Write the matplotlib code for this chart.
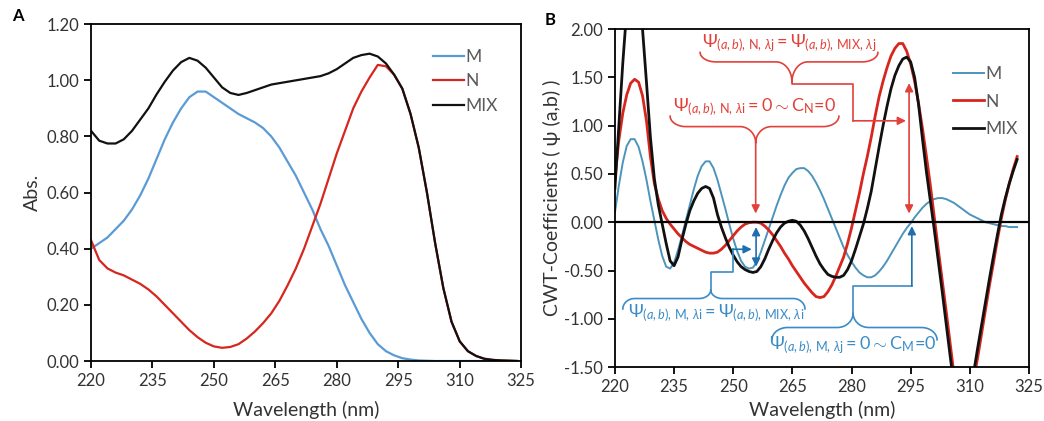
import numpy as np
import matplotlib
matplotlib.use('Agg')
import matplotlib.pyplot as plt

plt.rcParams['font.family'] = ['Lato', 'DejaVu Sans']
plt.rcParams['mathtext.fontset'] = 'custom'
plt.rcParams['mathtext.rm'] = 'Lato'
plt.rcParams['mathtext.it'] = 'Lato:italic'
plt.rcParams['mathtext.bf'] = 'Lato:bold'

# ---- panel A: absorption spectra ----
wl_a = list(range(220, 325, 2))
abs_m = [0.40, 0.42, 0.44, 0.47, 0.50, 0.54, 0.59, 0.65, 0.72, 0.79,
         0.85, 0.90, 0.94, 0.96, 0.96, 0.94, 0.92, 0.90, 0.88, 0.865,
         0.85, 0.83, 0.80, 0.76, 0.71, 0.66, 0.60, 0.54, 0.47, 0.41,
         0.34, 0.27, 0.21, 0.15, 0.10, 0.06, 0.035, 0.02, 0.01, 0.005,
         0.002, 0.001, 0.0, 0.0, 0.0, 0.0, 0.0, 0.0, 0.0, 0.0,
         0.0, 0.0, 0.0]
abs_n = [0.43, 0.36, 0.33, 0.315, 0.305, 0.29, 0.275, 0.255, 0.23, 0.20,
         0.17, 0.14, 0.11, 0.085, 0.065, 0.052, 0.047, 0.05, 0.06, 0.08,
         0.105, 0.135, 0.17, 0.215, 0.27, 0.33, 0.40, 0.48, 0.56, 0.65,
         0.74, 0.82, 0.90, 0.96, 1.01, 1.055, 1.05, 1.02, 0.97, 0.88,
         0.76, 0.60, 0.42, 0.26, 0.14, 0.07, 0.035, 0.018, 0.008, 0.004,
         0.002, 0.001, 0.0]
abs_mix = [0.82, 0.785, 0.775, 0.775, 0.79, 0.82, 0.86, 0.90, 0.95, 0.995,
           1.035, 1.065, 1.08, 1.07, 1.045, 1.01, 0.975, 0.955, 0.948, 0.955,
           0.965, 0.975, 0.985, 0.99, 0.995, 1.0, 1.005, 1.01, 1.015, 1.025,
           1.04, 1.06, 1.08, 1.09, 1.095, 1.085, 1.06, 1.02, 0.97, 0.88,
           0.76, 0.60, 0.42, 0.26, 0.14, 0.07, 0.035, 0.018, 0.008, 0.004,
           0.002, 0.001, 0.0]

# ---- panel B: CWT coefficients (1 nm steps) ----
wl_b = list(range(220, 323))
cwt_m = [0.10, 0.38, 0.62, 0.79, 0.86, 0.86, 0.78, 0.63, 0.44, 0.22,
         0.02, -0.18, -0.35, -0.46, -0.48, -0.42, -0.29, -0.14, 0.02, 0.18,
         0.34, 0.48, 0.58, 0.63, 0.63, 0.56, 0.44, 0.29, 0.14, -0.02,
         -0.17, -0.30, -0.40, -0.46, -0.48, -0.47, -0.41, -0.31, -0.19, -0.07,
         0.05, 0.17, 0.28, 0.38, 0.46, 0.51, 0.55, 0.56, 0.56, 0.53,
         0.48, 0.41, 0.33, 0.24, 0.14, 0.04, -0.06, -0.16, -0.26, -0.34,
         -0.41, -0.47, -0.52, -0.55, -0.57, -0.57, -0.55, -0.51, -0.46, -0.40,
         -0.33, -0.26, -0.19, -0.12, -0.06, -0.01, 0.05, 0.10, 0.15, 0.19,
         0.22, 0.24, 0.25, 0.25, 0.24, 0.22, 0.20, 0.17, 0.14, 0.11,
         0.08, 0.06, 0.04, 0.02, 0.0, -0.01, -0.02, -0.03, -0.04, -0.04,
         -0.05, -0.05, -0.05]
cwt_n = [0.45, 0.85, 1.13, 1.32, 1.44, 1.48, 1.45, 1.31, 1.05, 0.68,
         0.40, 0.24, 0.12, 0.04, -0.02, -0.07, -0.12, -0.16, -0.20, -0.23,
         -0.25, -0.27, -0.29, -0.31, -0.32, -0.32, -0.31, -0.28, -0.24, -0.19,
         -0.14, -0.09, -0.05, -0.02, -0.005, 0.0, 0.0, -0.01, -0.04, -0.08,
         -0.13, -0.19, -0.25, -0.32, -0.38, -0.45, -0.51, -0.57, -0.63, -0.68,
         -0.73, -0.77, -0.78, -0.77, -0.72, -0.65, -0.56, -0.46, -0.36, -0.22,
         -0.06, 0.12, 0.30, 0.50, 0.68, 0.88, 1.10, 1.30, 1.46, 1.60,
         1.72, 1.80, 1.85, 1.85, 1.77, 1.64, 1.46, 1.23, 0.97, 0.68,
         0.38, 0.05, -0.28, -0.60, -0.92, -1.25, -1.58, -1.85, -2.05, -2.10,
         -1.95, -1.62, -1.40, -1.15, -0.90, -0.65, -0.42, -0.18, 0.04, 0.23,
         0.40, 0.55, 0.68]
cwt_mix = [0.35, 1.00, 1.65, 2.20, 2.50, 2.55, 2.40, 2.00, 1.45, 0.88,
           0.45, 0.18, -0.02, -0.22, -0.40, -0.45, -0.36, -0.18, -0.02, 0.12,
           0.22, 0.30, 0.35, 0.37, 0.35, 0.25, 0.08, -0.05, -0.16, -0.26,
           -0.34, -0.41, -0.46, -0.49, -0.51, -0.52, -0.51, -0.46, -0.38, -0.28,
           -0.19, -0.11, -0.05, -0.01, 0.01, 0.02, 0.01, -0.03, -0.09, -0.17,
           -0.26, -0.35, -0.43, -0.49, -0.54, -0.56, -0.57, -0.57, -0.55, -0.49,
           -0.40, -0.28, -0.15, -0.02, 0.14, 0.32, 0.55, 0.78, 1.00, 1.20,
           1.38, 1.52, 1.62, 1.69, 1.71, 1.66, 1.50, 1.22, 0.86, 0.52,
           0.22, -0.08, -0.40, -0.72, -1.05, -1.38, -1.70, -1.98, -2.15, -2.15,
           -1.90, -1.55, -1.30, -1.06, -0.82, -0.58, -0.35, -0.13, 0.08, 0.25,
           0.40, 0.53, 0.65]

BLUE_A = '#5b9bd5'
BLUE_B = '#4d94bd'
RED = '#d7261e'
BLACK = '#111111'
RED_ANN = '#e2413a'
BLUE_ANN = '#3a8cc7'
BLUE_ARR = '#1f6fb0'
TICK_COL = '#333333'


def style_axes(ax):
    for s in ax.spines.values():
        s.set_linewidth(1.3)
        s.set_color('black')
    ax.tick_params(axis='both', direction='out', length=5, width=1.3,
                   labelsize=12, labelcolor=TICK_COL, top=False, right=False)
    ax.set_xticks(range(220, 326, 15))
    ax.set_xlim(220, 325)


# horizontal curly brace: ends at y_end, body at y_body, tip at (xm, y_tip)
def brace(ax, x0, x1, xm, y_end, y_body, y_tip, color, r=4.0):
    t = np.linspace(0, np.pi / 2, 25)
    s, c = np.sin(t), np.cos(t)
    xs = np.concatenate([
        x0 + r - r * c,                      # left curl
        xm - r + r * s,                      # into the tip
        xm + r - r * c,                      # out of the tip
        x1 - r + r * s])                     # right curl
    ys = np.concatenate([
        y_end + (y_body - y_end) * s,
        y_body + (y_tip - y_body) * (1 - c),
        y_tip + (y_body - y_tip) * s,
        y_body + (y_end - y_body) * (1 - c)])
    ax.plot(xs, ys, color=color, lw=1.2, solid_capstyle='round')


def arrow(ax, start, end, color, both=False):
    ax.annotate('', xy=end, xytext=start,
                arrowprops=dict(arrowstyle='<|-|>' if both else '-|>', color=color,
                                lw=1.2, mutation_scale=12, shrinkA=0, shrinkB=0))


fig = plt.figure(figsize=(10.44, 4.21), dpi=100)

# ---------- A ----------
ax1 = fig.add_axes([0.0872, 0.1425, 0.412, 0.800])
ax1.plot(wl_a, abs_m, color=BLUE_A, lw=1.6, label='M')
ax1.plot(wl_a, abs_n, color=RED, lw=1.6, label='N')
ax1.plot(wl_a, abs_mix, color=BLACK, lw=1.6, label='MIX')
style_axes(ax1)
ax1.set_ylim(0, 1.2)
ax1.set_yticks(np.arange(0, 1.21, 0.2))
ax1.set_yticklabels(['%.2f' % v for v in np.arange(0, 1.21, 0.2)])
ax1.set_xlabel('Wavelength (nm)', fontsize=14, color=TICK_COL, labelpad=9)
ax1.set_ylabel('Abs.', fontsize=14, color=TICK_COL)
ax1.legend(loc='upper left', bbox_to_anchor=(0.795, 0.927), frameon=False,
           handlelength=1.8, handletextpad=0.05, labelspacing=0.5,
           borderpad=0, borderaxespad=0, fontsize=12.5, labelcolor='#595959')
fig.text(0.012, 0.95, 'A', fontsize=12, fontweight='bold')

# ---------- B ----------
ax2 = fig.add_axes([0.589, 0.128, 0.3966, 0.803])
ax2.plot(wl_b, cwt_m, color=BLUE_B, lw=1.4, label='M')
ax2.plot(wl_b, cwt_n, color=RED, lw=2.0, label='N')
ax2.plot(wl_b, cwt_mix, color=BLACK, lw=2.0, label='MIX')
ax2.axhline(0, color='black', lw=1.6)
style_axes(ax2)
ax2.set_ylim(-1.5, 2.0)
ax2.set_yticks(np.arange(-1.5, 2.01, 0.5))
ax2.set_yticklabels(['%.2f' % v for v in np.arange(-1.5, 2.01, 0.5)])
ax2.set_xlabel('Wavelength (nm)', fontsize=14, color=TICK_COL, labelpad=4)
ax2.set_ylabel('CWT-Coefficients ( ψ (a,b) )', fontsize=14, color=TICK_COL, labelpad=2)
ax2.legend(loc='upper left', bbox_to_anchor=(0.816, 0.89), frameon=False,
           handlelength=1.8, handletextpad=0.05, labelspacing=0.65,
           borderpad=0, borderaxespad=0, fontsize=12.5, labelcolor='#595959')
fig.text(0.522, 0.94, 'B', fontsize=12, fontweight='bold')

# red annotations
ax2.text(264.2, 1.85, r'$\Psi_{(a,b),\,\mathrm{N},\,\lambda\mathrm{j}} = \Psi_{(a,b),\,\mathrm{MIX},\,\lambda\mathrm{j}}$',
         color=RED_ANN, fontsize=13, ha='center', va='center')
brace(ax2, 241.6, 286.7, 264.9, 1.76, 1.66, 1.45, RED_ANN)
ax2.plot([264.9, 264.9, 280.4, 280.4], [1.45, 1.43, 1.43, 1.05], color=RED_ANN, lw=1.2)
arrow(ax2, (280.4, 1.05), (293.8, 1.05), RED_ANN)
arrow(ax2, (294.6, 1.44), (294.6, 0.09), RED_ANN, both=True)

ax2.text(255.4, 1.19, r'$\Psi_{(a,b),\,\mathrm{N},\,\lambda\mathrm{i}} = 0 \sim \mathrm{C}_{\mathrm{N}}\!=\!0$',
         color=RED_ANN, fontsize=13, ha='center', va='center')
brace(ax2, 234.0, 276.8, 255.7, 1.10, 0.99, 0.82, RED_ANN)
arrow(ax2, (255.7, 0.82), (255.7, 0.09), RED_ANN)

# blue annotations
ax2.text(245.6, -0.94, r'$\Psi_{(a,b),\,\mathrm{M},\,\lambda\mathrm{i}} = \Psi_{(a,b),\,\mathrm{MIX},\,\lambda\mathrm{i}}$',
         color=BLUE_ANN, fontsize=13, ha='center', va='center')
brace(ax2, 222.0, 268.2, 244.3, -0.90, -0.79, -0.70, BLUE_ANN, r=3.0)
ax2.plot([244.3, 244.3, 249.9, 249.9], [-0.70, -0.52, -0.52, -0.28], color=BLUE_ANN, lw=1.2)
arrow(ax2, (249.9, -0.28), (254.7, -0.28), BLUE_ARR)
arrow(ax2, (255.8, -0.05), (255.8, -0.46), BLUE_ARR, both=True)

ax2.text(280.4, -1.27, r'$\Psi_{(a,b),\,\mathrm{M},\,\lambda\mathrm{j}} = 0 \sim \mathrm{C}_{\mathrm{M}}\!=\!0$',
         color=BLUE_ANN, fontsize=13, ha='center', va='center')
brace(ax2, 259.8, 301.7, 280.4, -1.22, -1.09, -0.94, BLUE_ANN)
ax2.plot([280.4, 280.4, 295.3], [-0.94, -0.66, -0.66], color=BLUE_ANN, lw=1.2)
arrow(ax2, (295.3, -0.66), (295.3, -0.04), BLUE_ARR)

fig.savefig('out.png', dpi=100)
